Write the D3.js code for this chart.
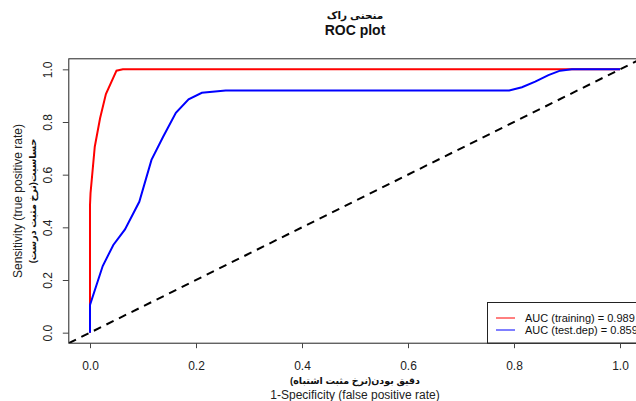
<!DOCTYPE html>
<html>
<head>
<meta charset="utf-8">
<script src="https://cdn.jsdelivr.net/npm/d3@7"></script>
<style>
  body { margin: 0; background: #fff; }
  text { font-family: "Liberation Sans", Arial, "DejaVu Sans", sans-serif; }
</style>
</head>
<body>
<div id="chart-area"></div>
<script>
// ROC curve points (false positive rate, true positive rate)
var trainFpr = [0, 0, 0.001, 0.009, 0.019, 0.030, 0.050, 0.062, 1.0];
var trainTpr = [0, 0.485, 0.53, 0.706, 0.814, 0.906, 0.995, 1.0, 1.0];

var testFpr = [0, 0, 0.024, 0.044, 0.066, 0.093, 0.116, 0.138, 0.162, 0.186, 0.211, 0.236, 0.256, 0.791, 0.815, 0.840, 0.865, 0.887, 0.909, 1.0];
var testTpr = [0, 0.105, 0.253, 0.333, 0.392, 0.497, 0.656, 0.744, 0.835, 0.886, 0.911, 0.916, 0.920, 0.920, 0.932, 0.953, 0.978, 0.995, 1.0, 1.0];

var tickValues = [0, 0.2, 0.4, 0.6, 0.8, 1.0];
var legendLabels = ["AUC (training) = 0.989", "AUC (test.dep) = 0.859"];
var legendColors = ["red", "blue"];

var width = 636, height = 401;

var svg = d3.select("#chart-area").append("svg")
    .attr("width", width)
    .attr("height", height);

// R style usr range: 4% padding on each side
var x = d3.scaleLinear().domain([-0.04, 1.04]).range([68.8, 641.2]);
var y = d3.scaleLinear().domain([-0.04, 1.04]).range([343.2, 58.8]);

svg.append("defs").append("clipPath")
    .attr("id", "plot-clip")
    .append("rect")
    .attr("x", x(-0.04)).attr("y", y(1.04))
    .attr("width", x(1.04) - x(-0.04))
    .attr("height", y(-0.04) - y(1.04));

var plot = svg.append("g").attr("clip-path", "url(#plot-clip)");

var line = d3.line()
    .x(d => x(d[0]))
    .y(d => y(d[1]));

var trainData = trainFpr.map((d, i) => [d, trainTpr[i]]);
var testData = testFpr.map((d, i) => [d, testTpr[i]]);

plot.append("path")
    .datum(trainData)
    .attr("fill", "none")
    .attr("stroke", "red")
    .attr("stroke-width", 2)
    .attr("d", line);

plot.append("path")
    .datum(testData)
    .attr("fill", "none")
    .attr("stroke", "blue")
    .attr("stroke-width", 2)
    .attr("d", line);

// diagonal reference line
plot.append("path")
    .datum([[-0.04, -0.04], [1.04, 1.04]])
    .attr("fill", "none")
    .attr("stroke", "black")
    .attr("stroke-width", 2)
    .attr("stroke-dasharray", "8,6")
    .attr("d", line);

// legend (bottom right)
var lg = svg.append("g");
lg.append("rect")
    .attr("x", x(0.75)).attr("y", 302.5)
    .attr("width", x(1.04) - x(0.75)).attr("height", y(-0.04) - 302.5)
    .attr("fill", "white")
    .attr("stroke", "#222")
    .attr("stroke-width", 1);

legendLabels.forEach((t, i) => {
    var ly = 318 + i * 12;
    lg.append("line")
        .attr("x1", 496).attr("x2", 515)
        .attr("y1", ly).attr("y2", ly)
        .attr("stroke", legendColors[i])
        .attr("stroke-width", 1);
    lg.append("text")
        .attr("x", 525).attr("y", ly + 4)
        .attr("font-size", 11)
        .attr("fill", "#111")
        .text(t);
});

// box
svg.append("rect")
    .attr("x", x(-0.04)).attr("y", y(1.04))
    .attr("width", x(1.04) - x(-0.04))
    .attr("height", y(-0.04) - y(1.04))
    .attr("fill", "none")
    .attr("stroke", "#222")
    .attr("stroke-width", 1);

// axes
var xAxisGroup = svg.append("g")
    .attr("transform", `translate(0, ${y(-0.04)})`)
    .call(d3.axisBottom(x)
        .tickValues(tickValues)
        .tickFormat(d3.format(".1f"))
        .tickSize(5)
        .tickPadding(13));
xAxisGroup.select(".domain").remove();
xAxisGroup.selectAll("line").attr("stroke", "#444");
xAxisGroup.selectAll("text")
    .attr("font-size", 12)
    .attr("fill", "#222")
    .style("font-family", "'Liberation Sans', Arial, sans-serif");

var yAxisGroup = svg.append("g")
    .attr("transform", `translate(${x(-0.04)}, 0)`)
    .call(d3.axisLeft(y)
        .tickValues(tickValues)
        .tickFormat(d3.format(".1f"))
        .tickSize(6));
yAxisGroup.select(".domain").remove();
yAxisGroup.selectAll("line").attr("stroke", "#444");
yAxisGroup.selectAll("text")
    .attr("x", 0)
    .attr("dy", 0)
    .attr("transform", "translate(-17, 0) rotate(-90)")
    .attr("text-anchor", "middle")
    .attr("font-size", 12)
    .attr("fill", "#222")
    .style("font-family", "'Liberation Sans', Arial, sans-serif");

var cx = (x(-0.04) + x(1.04)) / 2;
var cy = (y(-0.04) + y(1.04)) / 2;

// titles
svg.append("text")
    .attr("x", cx).attr("y", 19)
    .attr("text-anchor", "middle")
    .attr("font-size", 10.5)
    .attr("font-weight", "bold")
    .attr("fill", "#111")
    .text("منحنی راک");

svg.append("text")
    .attr("x", cx).attr("y", 35)
    .attr("text-anchor", "middle")
    .attr("font-size", 14)
    .attr("font-weight", "bold")
    .attr("fill", "#111")
    .text("ROC plot");

// x axis title
svg.append("text")
    .attr("x", cx).attr("y", 384)
    .attr("text-anchor", "middle")
    .attr("font-size", 9.5)
    .attr("font-weight", "bold")
    .attr("fill", "#111")
    .text("دقیق بودن(نرخ مثبت اشتباه)");

svg.append("text")
    .attr("x", cx).attr("y", 399)
    .attr("text-anchor", "middle")
    .attr("font-size", 12)
    .attr("fill", "#222")
    .text("1-Specificity (false positive rate)");

// y axis title
svg.append("text")
    .attr("transform", `translate(22, ${cy}) rotate(-90)`)
    .attr("text-anchor", "middle")
    .attr("font-size", 12)
    .attr("fill", "#222")
    .text("Sensitivity (true positive rate)");

svg.append("text")
    .attr("transform", `translate(36, ${cy}) rotate(-90)`)
    .attr("text-anchor", "middle")
    .attr("font-size", 9.5)
    .attr("font-weight", "bold")
    .attr("fill", "#111")
    .text("حساسیت(نرخ مثبت درست)");
</script>
</body>
</html>
